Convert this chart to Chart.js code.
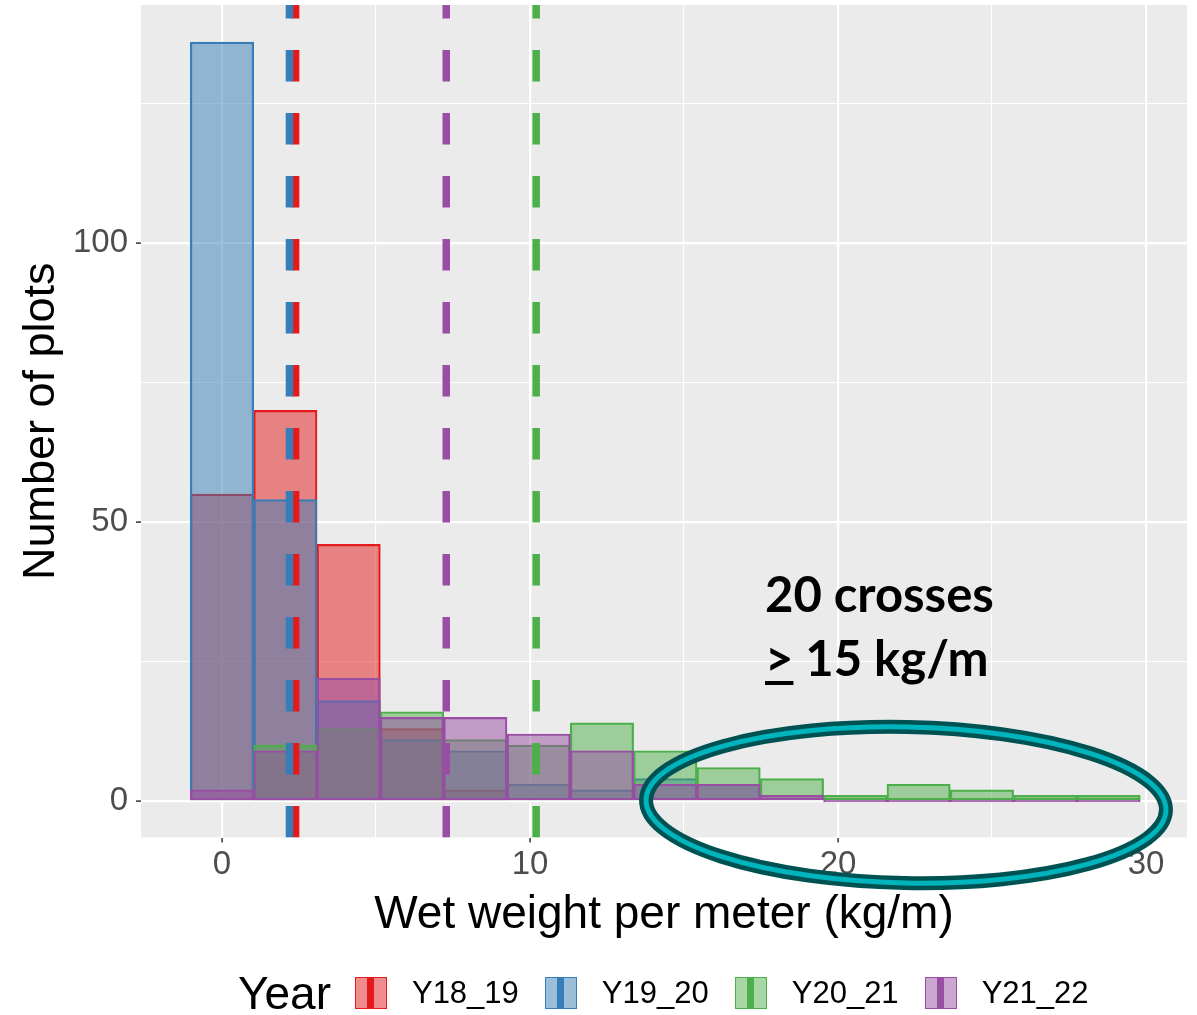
<!DOCTYPE html>
<html>
<head>
<meta charset="utf-8">
<script src="https://cdn.jsdelivr.net/npm/chart.js@4.4.0/dist/chart.umd.min.js"></script>
<style>
  html, body { margin: 0; padding: 0; background: #ffffff; }
  #wrap { position: relative; width: 1197px; height: 1015px; overflow: hidden; }
  #c { position: absolute; left: 0; top: 0; }
  .note {
    position: absolute; left: 765px; top: 561px;
    font: 700 49px/64px Lato, "Open Sans", sans-serif; color: #000;
    white-space: nowrap;
  }
  .note .ge { text-decoration: underline; text-decoration-thickness: 4px; text-underline-offset: 5px; }
  #legend {
    position: absolute; left: 238px; top: 972px; height: 42px;
    display: flex; align-items: center;
    font-family: "Liberation Sans", Arial, sans-serif; color: #000; white-space: nowrap;
  }
  #legend .title { font-size: 46px; margin-right: 24px; }
  #legend .key { position: relative; width: 32px; height: 32px; box-sizing: border-box; margin-right: 25px; }
  #legend .key .bar { position: absolute; top: 0; bottom: 0; left: 50%; width: 7px; margin-left: -3.5px; }
  #legend .lab { font-size: 31px; margin-right: 26px; }
</style>
</head>
<body>
<div id="wrap">
  <canvas id="c" width="1197" height="1015"></canvas>
  <div class="note">20 crosses<br><span class="ge">&gt;</span> 15 kg/m</div>
  <div id="legend"></div>
</div>
<script>
// Histogram bins (centres, kg/m) and plot counts per year
const binCenters = [0, 2.056, 4.112, 6.168, 8.224, 10.28, 12.336, 14.392, 16.448, 18.504, 20.56, 22.616, 24.672, 26.728, 28.784];
const yearLabels = ['Y18_19', 'Y19_20', 'Y20_21', 'Y21_22'];
const countsY18_19 = [55, 70, 46, 13, 2, 0, 0, 0, 0, 0, 0, 0, 0, 0, 0];
const countsY19_20 = [136, 54, 18, 11, 9, 3, 2, 4, 3, 0, 0, 0, 0, 0, 0];
const countsY20_21 = [0, 10, 13, 16, 11, 10, 14, 9, 6, 4, 1, 3, 2, 1, 1];
const countsY21_22 = [2, 9, 22, 15, 15, 12, 9, 3, 3, 1, 0, 0, 0, 0, 0];
// Mean wet weight per year (dashed lines)
const yearMeans = [2.39, 2.19, 10.20, 7.28];
// Axis ticks
const xTickValues = [0, 5, 10, 15, 20, 25, 30];
const xTickLabels = [0, 10, 20, 30];
const yTickValues = [0, 25, 50, 75, 100, 125];
const yTickLabels = [0, 50, 100];

const yearColors = ['#E41A1C', '#377EB8', '#4DAF4A', '#984EA3'];
const allCounts = [countsY18_19, countsY19_20, countsY20_21, countsY21_22];
const topIndex = yearLabels.length - 1;

function fade(hex, a) {
  const n = parseInt(hex.slice(1), 16);
  return `rgba(${(n >> 16) & 255},${(n >> 8) & 255},${n & 255},${a})`;
}

const datasets = yearLabels.map((label, i) => ({
  label,
  data: binCenters.map((x, j) => ({ x, y: allCounts[i][j] })),
  backgroundColor: fade(yearColors[i], 0.5),
  borderColor: yearColors[i],
  borderWidth: 1.5,
  borderSkipped: false,
  // empty bins of the top layer still show as a flat outline on the baseline
  minBarLength: i === topIndex ? 2 : 0,
  barPercentage: 1,
  categoryPercentage: 1,
  grouped: false,
  order: topIndex - i   // later years drawn on top
}));

// Grey panel behind the grid
const panelBg = {
  id: 'panelBg',
  beforeDraw(chart) {
    const { ctx, chartArea: a } = chart;
    ctx.save();
    ctx.fillStyle = '#EBEBEB';
    ctx.fillRect(a.left, a.top, a.right - a.left, a.bottom - a.top);
    ctx.restore();
  }
};

// Dashed vertical line at each year's mean
const meanLines = {
  id: 'meanLines',
  afterDatasetsDraw(chart) {
    const { ctx, chartArea: a, scales: { x } } = chart;
    ctx.save();
    ctx.beginPath();
    ctx.rect(a.left, a.top, a.right - a.left, a.bottom - a.top);
    ctx.clip();
    ctx.lineWidth = 7.5;
    ctx.lineCap = 'butt';
    ctx.setLineDash([31.5, 31.5]);
    yearMeans.forEach((m, i) => {
      const px = x.getPixelForValue(m);
      ctx.strokeStyle = yearColors[i];
      ctx.beginPath();
      ctx.moveTo(px, a.bottom);
      ctx.lineTo(px, a.top);
      ctx.stroke();
    });
    ctx.restore();
  }
};

// Highlight ring around the long right tail
const tailRing = {
  id: 'tailRing',
  afterDraw(chart) {
    const { ctx } = chart;
    ctx.save();
    ctx.beginPath();
    ctx.ellipse(906, 805, 260, 78, 0.02, 0, Math.PI * 2);
    ctx.lineWidth = 14;
    ctx.strokeStyle = '#005252';
    ctx.stroke();
    ctx.lineWidth = 5;
    ctx.strokeStyle = '#00B4BE';
    ctx.stroke();
    ctx.restore();
  }
};

Chart.defaults.font.family = "'Liberation Sans', Arial, sans-serif";

new Chart(document.getElementById('c'), {
  type: 'bar',
  data: { datasets },
  options: {
    responsive: false,
    devicePixelRatio: 1,
    animation: false,
    layout: { padding: { left: 0, top: 5, right: 10, bottom: 0 } },
    plugins: { legend: { display: false }, tooltip: { enabled: false } },
    scales: {
      x: {
        type: 'linear',
        offset: false,
        min: -2.63,
        max: 31.33,
        afterBuildTicks: s => { s.ticks = xTickValues.map(v => ({ value: v })); },
        afterFit: s => { s.height = 177.5; s.paddingLeft = 0; s.paddingRight = 0; },
        border: { display: false },
        grid: {
          offset: false,
          color: '#FFFFFF',
          lineWidth: c => (c.tick && xTickLabels.includes(c.tick.value) ? 2.2 : 1.1),
          tickLength: 5,
          tickWidth: 1.5,
          tickColor: c => (c.tick && xTickLabels.includes(c.tick.value) ? '#333333' : 'rgba(0,0,0,0)')
        },
        ticks: {
          autoSkip: false, maxRotation: 0, padding: 3,
          color: '#4D4D4D', font: { size: 33 },
          callback: v => (xTickLabels.includes(v) ? String(v) : '')
        },
        title: {
          display: true, text: 'Wet weight per meter (kg/m)',
          color: '#000000', font: { size: 46, lineHeight: 1.2 },
          padding: { top: 0, bottom: 72 }
        }
      },
      y: {
        min: -6.54,
        max: 142.65,
        afterBuildTicks: s => { s.ticks = yTickValues.map(v => ({ value: v })); },
        afterFit: s => { s.width = 141; s.paddingTop = 0; s.paddingBottom = 0; },
        border: { display: false },
        grid: {
          color: '#FFFFFF',
          lineWidth: c => (c.tick && yTickLabels.includes(c.tick.value) ? 2.2 : 1.1),
          tickLength: 5,
          tickWidth: 1.5,
          tickColor: c => (c.tick && yTickLabels.includes(c.tick.value) ? '#333333' : 'rgba(0,0,0,0)')
        },
        ticks: {
          padding: 8, color: '#4D4D4D', font: { size: 33 },
          callback: v => (yTickLabels.includes(v) ? String(v) : '')
        },
        title: {
          display: true, text: 'Number of plots',
          color: '#000000', font: { size: 45, lineHeight: 1.2 },
          padding: { top: 15, bottom: 0 }
        }
      }
    }
  },
  plugins: [panelBg, meanLines, tailRing]
});

// Legend: title then one key per year (fill square + mean line)
const legend = document.getElementById('legend');
const t = document.createElement('span');
t.className = 'title';
t.textContent = 'Year';
legend.appendChild(t);
yearLabels.forEach((label, i) => {
  const key = document.createElement('span');
  key.className = 'key';
  key.style.background = fade(yearColors[i], 0.5);
  key.style.border = `1.5px solid ${yearColors[i]}`;
  const bar = document.createElement('span');
  bar.className = 'bar';
  bar.style.background = yearColors[i];
  key.appendChild(bar);
  legend.appendChild(key);
  const lab = document.createElement('span');
  lab.className = 'lab';
  lab.textContent = label;
  legend.appendChild(lab);
});
</script>
</body>
</html>
